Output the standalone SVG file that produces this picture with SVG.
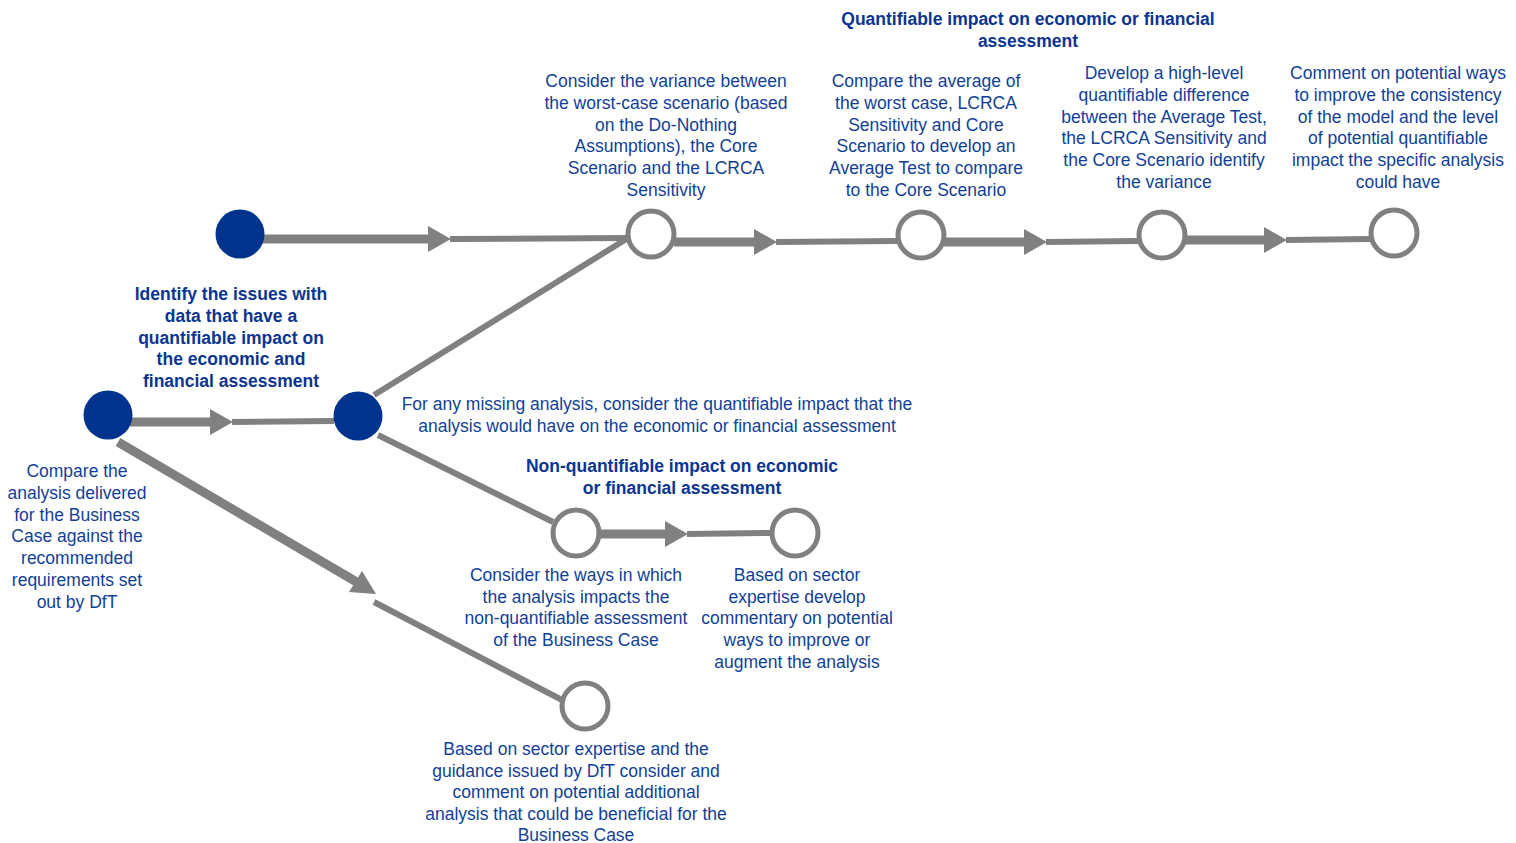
<svg xmlns="http://www.w3.org/2000/svg" width="1516" height="843" viewBox="0 0 1516 843">
<style>
text{font-family:"Liberation Sans",Arial,sans-serif;font-size:17.5px;fill:#123f96;text-anchor:middle}
.b{font-weight:bold;fill:#0b3590}
.filled{fill:#00338d;stroke:none}
.open{fill:#fff;stroke:#808080;stroke-width:5}
.thick{stroke:#808080;stroke-width:9;fill:none}
.thin{stroke:#808080;stroke-width:6;fill:none}
.head{fill:#808080}
</style>
<rect width="1516" height="843" fill="#fff"/>
<g id="connectors">
  <line class="thick" x1="262" y1="239" x2="430" y2="239"/>
  <polygon class="head" points="428,226 451,239 428,252"/>
  <line class="thin" x1="450" y1="239" x2="628" y2="238"/>

  <line class="thick" x1="674" y1="242" x2="756" y2="242"/>
  <polygon class="head" points="754,229 777,242 754,255"/>
  <line class="thin" x1="776" y1="242" x2="897" y2="241"/>

  <line class="thick" x1="944" y1="242" x2="1026" y2="242"/>
  <polygon class="head" points="1024,229 1047,242 1024,255"/>
  <line class="thin" x1="1046" y1="242" x2="1138" y2="241"/>

  <line class="thick" x1="1185" y1="240" x2="1266" y2="240"/>
  <polygon class="head" points="1264,227 1287,240 1264,253"/>
  <line class="thin" x1="1286" y1="240" x2="1370" y2="239"/>

  <line class="thick" x1="130" y1="422" x2="212" y2="422"/>
  <polygon class="head" points="210,409 233,422 210,435"/>
  <line class="thin" x1="232" y1="422" x2="334" y2="421"/>

  <line class="thin" x1="374" y1="395" x2="628" y2="238"/>
  <line class="thin" x1="378" y1="435" x2="553" y2="522"/>

  <line class="thick" x1="599" y1="534" x2="667" y2="534"/>
  <polygon class="head" points="665,521 688,534 665,547"/>
  <line class="thin" x1="687" y1="534" x2="771" y2="533"/>

  <line class="thick" x1="118" y1="442" x2="360" y2="584"/>
  <polygon class="head" points="349,592 376,594 362,571"/>
  <line class="thin" x1="374" y1="602" x2="562" y2="700"/>
</g>
<g id="n1"><circle class="filled" cx="240" cy="234" r="24.5"/></g>
<g id="n2"><circle class="open" cx="651" cy="234" r="23"/>
  <text><tspan x="666" y="87">Consider the variance between</tspan><tspan x="666" y="109">the worst-case scenario (based</tspan><tspan x="666" y="131">on the Do-Nothing</tspan><tspan x="666" y="152">Assumptions), the Core</tspan><tspan x="666" y="174">Scenario and the LCRCA</tspan><tspan x="666" y="196">Sensitivity</tspan></text></g>
<g id="n3"><circle class="open" cx="921" cy="235" r="23"/>
  <text><tspan x="926" y="87">Compare the average of</tspan><tspan x="926" y="109">the worst case, LCRCA</tspan><tspan x="926" y="131">Sensitivity and Core</tspan><tspan x="926" y="152">Scenario to develop an</tspan><tspan x="926" y="174">Average Test to compare</tspan><tspan x="926" y="196">to the Core Scenario</tspan></text></g>
<g id="n4"><circle class="open" cx="1162" cy="235" r="23"/>
  <text><tspan x="1164" y="79">Develop a high-level</tspan><tspan x="1164" y="101">quantifiable difference</tspan><tspan x="1164" y="123">between the Average Test,</tspan><tspan x="1164" y="144">the LCRCA Sensitivity and</tspan><tspan x="1164" y="166">the Core Scenario identify</tspan><tspan x="1164" y="188">the variance</tspan></text></g>
<g id="n5"><circle class="open" cx="1394" cy="233" r="23"/>
  <text><tspan x="1398" y="79">Comment on potential ways</tspan><tspan x="1398" y="101">to improve the consistency</tspan><tspan x="1398" y="123">of the model and the level</tspan><tspan x="1398" y="144">of potential quantifiable</tspan><tspan x="1398" y="166">impact the specific analysis</tspan><tspan x="1398" y="188">could have</tspan></text></g>
<g id="title-quant"><text class="b"><tspan x="1028" y="25">Quantifiable impact on economic or financial</tspan><tspan x="1028" y="47">assessment</tspan></text></g>
<g id="n6"><circle class="filled" cx="108" cy="415" r="24.5"/>
  <text><tspan x="77" y="477">Compare the</tspan><tspan x="77" y="499">analysis delivered</tspan><tspan x="77" y="521">for the Business</tspan><tspan x="77" y="542">Case against the</tspan><tspan x="77" y="564">recommended</tspan><tspan x="77" y="586">requirements set</tspan><tspan x="77" y="608">out by DfT</tspan></text></g>
<g id="n7"><circle class="filled" cx="358" cy="416" r="24.5"/>
  <text class="b"><tspan x="231" y="300">Identify the issues with</tspan><tspan x="231" y="322">data that have a</tspan><tspan x="231" y="344">quantifiable impact on</tspan><tspan x="231" y="365">the economic and</tspan><tspan x="231" y="387">financial assessment</tspan></text>
  <text><tspan x="657" y="410">For any missing analysis, consider the quantifiable impact that the</tspan><tspan x="657" y="432">analysis would have on the economic or financial assessment</tspan></text></g>
<g id="title-nonquant"><text class="b"><tspan x="682" y="472">Non-quantifiable impact on economic</tspan><tspan x="682" y="494">or financial assessment</tspan></text></g>
<g id="n8"><circle class="open" cx="576" cy="533" r="23"/>
  <text><tspan x="576" y="581">Consider the ways in which</tspan><tspan x="576" y="603">the analysis impacts the</tspan><tspan x="576" y="624">non-quantifiable assessment</tspan><tspan x="576" y="646">of the Business Case</tspan></text></g>
<g id="n9"><circle class="open" cx="795" cy="533" r="23"/>
  <text><tspan x="797" y="581">Based on sector</tspan><tspan x="797" y="603">expertise develop</tspan><tspan x="797" y="624">commentary on potential</tspan><tspan x="797" y="646">ways to improve or</tspan><tspan x="797" y="668">augment the analysis</tspan></text></g>
<g id="n10"><circle class="open" cx="585" cy="706" r="23"/>
  <text><tspan x="576" y="755">Based on sector expertise and the</tspan><tspan x="576" y="777">guidance issued by DfT consider and</tspan><tspan x="576" y="798">comment on potential additional</tspan><tspan x="576" y="820">analysis that could be beneficial for the</tspan><tspan x="576" y="841">Business Case</tspan></text></g>
</svg>
